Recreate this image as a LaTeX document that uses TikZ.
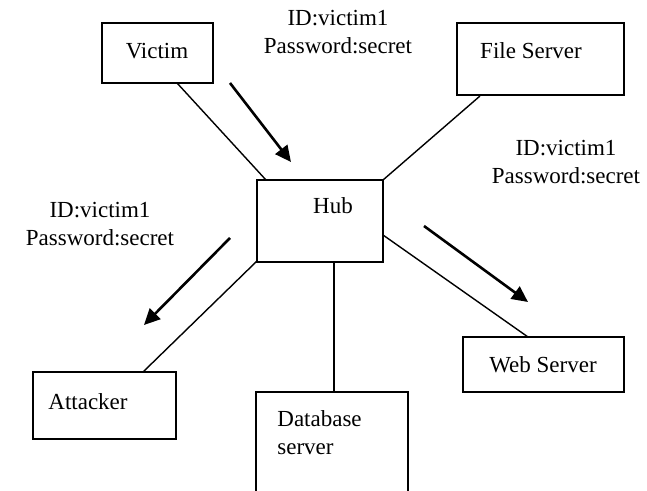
\documentclass[tikz,border=0pt]{standalone}
\usepackage{fontspec}
\setmainfont{Liberation Serif}
\usetikzlibrary{arrows.meta}
\begin{document}
\begin{tikzpicture}[x=0.5pt,y=-0.5pt,
  txt/.style={inner sep=0pt,font=\fontsize{11.5}{14}\selectfont,align=center},
  box/.style={draw,line width=0.8pt,inner sep=0pt},
  link/.style={line width=0.7pt},
  flow/.style={line width=1.3pt,-{Triangle[length=8pt,width=7.5pt]}}]
\useasboundingbox (0,0) rectangle (647,491);
% boxes
\node[box,minimum width=55.5pt,minimum height=30pt] (victim) at (157.5,53) {};
\node[box,minimum width=83.5pt,minimum height=36pt] (fs) at (540.5,59) {};
\node[box,minimum width=63pt,minimum height=41pt] (hub) at (320,221) {};
\node[box,minimum width=71.5pt,minimum height=33.5pt] (att) at (104.5,405.5) {};
\node[box,minimum width=80.5pt,minimum height=27.5pt] (web) at (543.5,364.5) {};
\coordinate (dbtl) at (256,392);
\coordinate (dbtr) at (408,392);
\coordinate (dbbl) at (256,495);
\coordinate (dbbr) at (408,495);
\draw[line width=0.8pt] (dbbl) -- (dbtl) -- (dbtr) -- (dbbr);
% texts
\node[txt] (tvictim) at (157,51) {Victim};
\node[txt] (tfs) at (531,51) {File Server};
\node[txt] (thub) at (333,206) {Hub};
\node[txt] (tatt) at (88,402) {Attacker};
\node[txt] (tweb) at (543,365) {Web Server};
\node[txt,align=left,anchor=north west] (tdb) at (277,410) {Database\\server};
\node[txt] (lbltop) at (338,32) {ID:victim1\\Password:secret};
\node[txt] (lblright) at (566,162) {ID:victim1\\Password:secret};
\node[txt] (lblleft) at (100,224) {ID:victim1\\Password:secret};
% link points
\coordinate (v1) at (177,83);
\coordinate (h1) at (266,180);
\coordinate (f1) at (480,96);
\coordinate (h2) at (383,180);
\coordinate (h3) at (383,235);
\coordinate (w1) at (528,337);
\coordinate (h4) at (257,261);
\coordinate (a1) at (143,372);
\coordinate (h5) at (334,262);
\coordinate (d1) at (334,392);
\draw[link] (v1) -- (h1);
\draw[link] (f1) -- (h2);
\draw[link] (h3) -- (w1);
\draw[link] (h4) -- (a1);
\draw[link] (h5) -- (d1);
% arrows
\coordinate (p1) at (230,83);
\coordinate (q1) at (291,162);
\coordinate (p2) at (424,226);
\coordinate (q2) at (528,302);
\coordinate (p3) at (230,238);
\coordinate (q3) at (144,325);
\draw[flow] (p1) -- (q1);
\draw[flow] (p2) -- (q2);
\draw[flow] (p3) -- (q3);
\end{tikzpicture}
\end{document}
